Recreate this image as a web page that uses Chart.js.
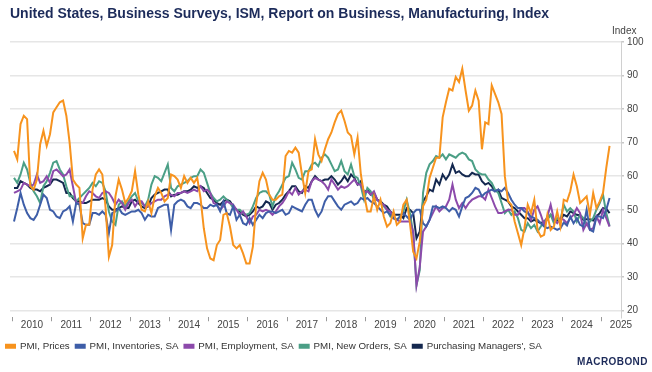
<!DOCTYPE html>
<html>
<head>
<meta charset="utf-8">
<script src="https://cdn.jsdelivr.net/npm/chart.js@4.4.1/dist/chart.umd.min.js"></script>
<style>
  html, body { margin: 0; padding: 0; background: #fff; }
  #wrap { position: relative; width: 652px; height: 372px; }
  #indexLabel { position: absolute; left: 612px; top: 25px; font: 10px "Liberation Sans", Arial, sans-serif; color: #444; }
  #logo { position: absolute; left: 577px; top: 356px; font: bold 10px "Liberation Sans", Arial, sans-serif; color: #1d2b5a; letter-spacing: 0.4px; }
</style>
</head>
<body>
<div id="wrap">
  <canvas id="chart" width="652" height="372"></canvas>
  <div id="indexLabel">Index</div>
  <div id="logo">MACROBOND</div>
</div>
<script>
// monthly values, Jan 2010 .. Mar 2025
const startYear = 2010

const prices = [
  67.5, 65, 75.5, 78, 77, 57, 56, 59, 69.5, 73.5, 69, 72.5,
  79, 80.5, 82, 82.5, 78, 70, 59, 57.5, 56.5, 41.5, 45.5, 45.5,
  56, 60.5, 62, 60.5, 50.5, 36, 39.5, 54, 59, 56, 52, 53.5,
  55.5, 61.5, 54.5, 50, 49.5, 52.5, 49, 54, 56.5, 55, 52.5, 53.5,
  60.5, 60, 59, 56.5, 60, 58, 59.5, 58, 59.5, 53.5, 44.5, 38.5,
  35.5, 35, 39.5, 41, 48.5, 49, 45, 39.5, 38.5, 39.5, 37, 34,
  34, 39, 51.5, 58.5, 61, 59, 54.5, 53, 53, 54, 54.5, 66,
  67.5, 67, 68.5, 67, 60.5, 55, 61.5, 62, 71, 66.5, 64.5, 68,
  71, 73, 76, 78.5, 79.5, 76.5, 73, 72, 66.5, 71.5, 60.5, 54.5,
  49.5, 49.5, 54, 50, 53, 48, 45, 46, 49.5, 45.5, 46.5, 51.5,
  53, 46, 37.5, 35.5, 40.5, 51, 53, 59.5, 62.5, 65.5, 65.5, 77.5,
  82, 86, 85.5, 89.5, 88, 92, 85.5, 79.5, 81, 85.5, 82.5, 68,
  76, 75.5, 87, 84.5, 82, 78.5, 60, 52.5, 51.5, 46.5, 43, 39.5,
  44.5, 51.5, 49, 53, 44, 42, 42.5, 48.5, 44, 45, 49.5, 45,
  53, 52.5, 55.5, 60.5, 57, 52, 53, 54, 48.5, 55, 50.5, 52.5,
  55, 62.5, 69
]

const inventories = [
  46.5, 50.5, 55, 51.5, 49, 47.5, 47, 48.5, 51.5, 54.5, 53.5, 50,
  49.5, 48, 47.5, 49.5, 50, 51, 46.5, 52, 51.5, 46, 45.5, 45.5,
  49, 49, 48.5, 49.5, 48.5, 43, 49, 49.5, 50.5, 49, 48.5, 49,
  49.5, 49.5, 50, 49, 47, 48.5, 48, 48, 50.5, 51, 51.5, 51.5,
  44, 51.5, 52.5, 53, 52.5, 51, 50.5, 52, 52, 51.5, 50.5, 50.5,
  51.5, 51, 51.5, 49.5, 52.5, 49, 48.5, 51, 47, 48.5, 46, 45.5,
  47.5, 45.5, 47, 48.5, 47.5, 49, 49.5, 49.5, 49, 49.5, 50, 48.5,
  49, 51, 50.5, 50, 49.5, 51.5, 53, 53, 50, 48, 49.5, 52.5,
  54, 54, 52.5, 51, 50, 51.5, 52, 52.5, 51.5, 52, 53.5, 53,
  53.5, 52.5, 52, 51, 50, 49, 49.5, 48.5, 47.5, 47, 48, 49,
  48, 47, 49, 50, 50, 46, 45, 47, 51, 51, 50.5, 51,
  50.5, 49.5, 50.5, 50, 48, 51, 53.5, 54, 55, 56.5, 56, 54,
  55, 55.5, 56, 55.5, 56, 55.5, 56.5, 55, 53, 51.5, 50.5, 50.5,
  49.5, 49, 48, 47.5, 47, 46, 45, 44.5, 45, 44.5, 44, 44.5,
  46.2, 45.3, 48, 46, 47.5, 45.5, 45, 50, 44, 43.5, 48, 48,
  47.5, 50, 53.5
]

const employment = [
  55, 55.5, 56, 58, 57.5, 57, 57.5, 60.5, 58, 58.5, 60, 58,
  61.5, 62, 61, 60, 60.5, 62, 57, 52, 52, 52, 54, 55.5,
  55, 54, 53.5, 55, 55.5, 55, 53.5, 51.5, 53, 52, 50, 52,
  53, 51, 52.5, 52.5, 51, 51, 52, 52.5, 53, 53, 54, 54.5,
  54.5, 54, 55, 55, 55.5, 55, 55.5, 56, 55.5, 57, 55.5, 56,
  55, 52, 51.5, 50, 51, 52.5, 52, 51.5, 50, 48.5, 49.5, 48,
  46, 48, 48.5, 50, 49.5, 50, 49.5, 48.5, 49.5, 51, 52, 53.5,
  55.5, 54.5, 56.5, 54.5, 55.5, 56, 55.5, 58.5, 59.5, 59, 58.5, 57.5,
  56, 59, 57.5, 56, 57, 56.5, 57, 58, 59, 57.5, 57.5, 55,
  55.5, 54.5, 55.5, 53, 52, 51.5, 50, 49.5, 47.5, 47, 46.5, 46.5,
  46.5, 46.5, 43.5, 27.5, 33, 43.5, 45, 47, 49, 51, 49.5, 50.5,
  51, 53, 57.5, 53, 50.5, 52, 50.5, 52, 53, 53.5, 54, 54,
  53, 56, 53.5, 51, 49, 49, 49.5, 50, 50, 48.5, 48.5, 50.5,
  50.5, 49.5, 47, 50, 51, 48.5, 45.5, 48, 51.5, 47, 46, 47.5,
  47, 46, 47.5, 48.5, 50.5, 49, 44, 46, 44, 44.5, 48, 46,
  50, 47.5, 45
]

const newOrders = [
  59.5, 58, 60.5, 64, 62, 58, 55.5, 54, 52, 57, 58.5, 61,
  64, 64.5, 62, 60.5, 57, 54, 54, 52.5, 53.5, 54.5, 55.5, 56.5,
  58, 57, 58.5, 58, 55.5, 49.5, 46.5, 45.5, 51.5, 52.5, 51, 52.5,
  54, 55, 52.5, 52, 51, 53, 57.5, 60, 59.5, 58.5, 61, 63.5,
  56.5, 55.5, 57, 57.5, 58, 58.5, 59.5, 60, 60, 62, 61, 58,
  55, 53.5, 52.5, 53, 54, 53, 52, 50.5, 50, 50, 49, 48.5,
  49, 51, 53.5, 55, 55.5, 55.5, 54.5, 51, 54, 55.5, 57.5, 59.5,
  60, 64, 62, 59.5, 59, 61.5, 61.5, 63.5, 64, 63, 65.5, 66.5,
  65.5, 63.5, 61.5, 62, 64.5, 61.5, 60.5, 63.5, 60, 59.5, 57, 53,
  56.5, 55.5, 53, 53, 52, 51, 50, 48, 47.5, 47, 48, 49.5,
  53, 49, 43, 27.5, 32, 55, 61, 63.5, 64.5, 66, 65.5, 66.5,
  65, 66.5, 66, 65.5, 66.5, 67, 66.5, 65, 64.5, 62, 61, 60.5,
  60.5, 59, 58, 56, 55, 52, 49, 50, 48.5, 49.5, 47.5, 44,
  43.5, 46, 44.5, 45.5, 43.5, 45, 46.5, 47, 48.5, 46, 47.5, 47,
  51.5, 49.5, 50.5, 49.5, 46.5, 48.5, 47.5, 45.5, 46.5, 47.5, 50, 52,
  54.5, 49, 45.2
]

const pmi = [
  56.5, 56.5, 58.5, 58, 57.5, 56.5, 56, 56, 55.5, 56.5, 57, 57.5,
  59, 59, 58.5, 58, 55, 55, 53.5, 52.5, 52.5, 52, 52, 52.5,
  53, 53, 53, 53.5, 53, 51, 50, 50, 50.5, 51, 50.5, 50.5,
  52.5, 53, 52, 51, 50.5, 51, 53.5, 54.5, 55, 55.5, 56, 56,
  54, 54.5, 54.5, 55, 55.5, 55.5, 56, 57, 56.5, 57, 56.5, 55,
  53.5, 53, 52, 51.5, 52.5, 53, 52.5, 51, 50, 49.5, 48.5, 48,
  48.5, 49.5, 51, 50.5, 51, 52.5, 52, 50, 51.5, 52, 53, 54.5,
  55.5, 57, 57, 55.5, 55, 57, 56.5, 58.5, 60, 59, 58.5, 59,
  59, 60, 59, 57.5, 58.5, 60, 58.5, 60.5, 59.5, 57.5, 58.5, 55,
  56, 54.5, 55, 53, 52.5, 51.5, 51, 49.5, 48.5, 48.5, 48.5, 47.5,
  50.5, 50, 49, 41.5, 43.5, 52.5, 54, 56, 55.5, 59, 57.5, 60.5,
  59, 60.5, 63.5, 61, 61.5, 60.5, 60, 60, 61, 60.5, 60.5, 58.5,
  57.5, 58, 57, 55.5, 56, 53.5, 53, 52.5, 51, 50.5, 49.5, 48.5,
  47.5, 47.5, 46.5, 47, 46.5, 46, 46.5, 47.5, 48.5, 47, 46.8, 47,
  48.5, 48, 49.5, 49, 48.5, 48.3, 47, 47.2, 47.2, 46.8, 48, 49,
  50.5, 50.3, 49
]

const yearTicks = [2010, 2011, 2012, 2013, 2014, 2015, 2016, 2017, 2018, 2019, 2020, 2021, 2022, 2023, 2024, 2025]
const valueTicks = [20, 30, 40, 50, 60, 70, 80, 90, 100]

const seriesNames = ['PMI, Prices', 'PMI, Inventories, SA', 'PMI, Employment, SA', 'PMI, New Orders, SA', "Purchasing Managers', SA"]
const seriesColors = ['#f7931e', '#3e5ea8', '#8c4aab', '#4b9f86', '#14284f']

// month i sits in the middle of its month on a year axis
function toPoints(arr) {
  return arr.map((v, i) => ({ x: startYear + (i + 0.5) / 12, y: v }))
}

const allSeries = [prices, inventories, employment, newOrders, pmi]

const font = 'Liberation Sans, Arial, sans-serif'

// nudge the legend to the left edge like the original
const legendShift = {
  id: 'legendShift',
  beforeDraw(chart) {
    chart.legend.left = 0
  }
}

const ctx = document.getElementById('chart').getContext('2d')
const myChart = new Chart(ctx, {
  type: 'line',
  data: {
    datasets: allSeries.map((arr, i) => ({
      label: seriesNames[i],
      data: toPoints(arr),
      borderColor: seriesColors[i],
      backgroundColor: seriesColors[i],
      borderWidth: 2,
      pointRadius: 0,
      fill: false,
      tension: 0
    }))
  },
  options: {
    responsive: false,
    animation: false,
    layout: { padding: { left: 10, right: 0, top: 0, bottom: 11 } },
    scales: {
      x: {
        type: 'linear',
        min: 2009.94,
        max: 2025.5,
        afterBuildTicks: (axis) => { axis.ticks = yearTicks.map(v => ({ value: v })) },
        afterFit: (axis) => { axis.height = 18 },
        grid: { drawOnChartArea: false, drawTicks: true, tickLength: 4, tickColor: '#9a9a9a' },
        border: { display: false },
        ticks: {
          autoSkip: false,
          maxRotation: 0,
          labelOffset: 19.6,
          padding: -2,
          color: '#444',
          font: { family: font, size: 10 },
          callback: (v) => String(v)
        }
      },
      y: {
        position: 'right',
        min: 18,
        max: 100,
        afterBuildTicks: (axis) => { axis.ticks = valueTicks.map(v => ({ value: v })) },
        afterFit: (axis) => { axis.width = 31 },
        grid: { color: '#e6e6e6', lineWidth: 1.5, drawTicks: true, tickLength: 3, tickColor: '#c8c8c8' },
        border: { display: true, color: '#d0d0d0', width: 1 },
        ticks: {
          padding: 3,
          color: '#444',
          font: { family: font, size: 10 }
        }
      }
    },
    plugins: {
      title: {
        display: true,
        text: 'United States, Business Surveys, ISM, Report on Business, Manufacturing, Index',
        align: 'start',
        color: '#1c2b5a',
        font: { family: font, size: 14, weight: 'bold' },
        padding: { top: 6, bottom: 19 }
      },
      legend: {
        position: 'bottom',
        align: 'start',
        labels: {
          boxWidth: 9,
          boxHeight: 3,
          padding: 6,
          color: '#333',
          font: { family: font, size: 9.75 }
        }
      },
      tooltip: { enabled: false }
    }
  },
  plugins: [legendShift]
})
</script>
</body>
</html>
